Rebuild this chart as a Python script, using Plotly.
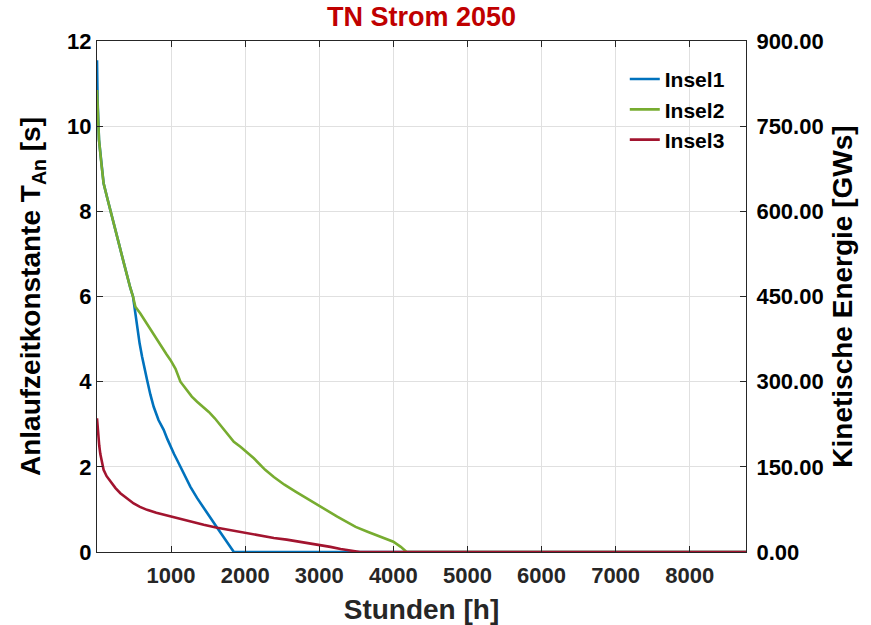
import plotly.graph_objects as go

hours_1 = [0, 8, 27, 60, 89, 140, 193, 250, 306, 360, 410, 450, 486, 508, 540, 575, 608, 640, 676, 720, 765, 830, 900, 950, 991, 1040, 1081, 1117, 1180, 1261, 1350, 1464, 1540, 1622, 1680, 1734, 1790, 1847, 8760]
insel1 = [11.55, 10.6, 9.68, 9.1, 8.66, 8.3, 7.96, 7.55, 7.17, 6.8, 6.45, 6.2, 6.0, 5.7, 5.25, 4.9, 4.59, 4.3, 4.04, 3.7, 3.41, 3.1, 2.87, 2.65, 2.47, 2.3, 2.16, 2.03, 1.8, 1.53, 1.27, 0.99, 0.78, 0.57, 0.42, 0.28, 0.13, 0, 0]

hours_2 = [0, 8, 27, 60, 89, 140, 193, 250, 306, 360, 410, 450, 486, 518, 585, 650, 720, 800, 878, 940, 991, 1060, 1126, 1200, 1280, 1351, 1430, 1509, 1590, 1666, 1750, 1847, 1936, 2000, 2117, 2162, 2270, 2387, 2530, 2680, 2840, 3000, 3120, 3243, 3370, 3491, 3660, 3828, 4000, 4100, 4180, 8760]
insel2 = [10.85, 10.3, 9.68, 9.1, 8.66, 8.3, 7.96, 7.55, 7.17, 6.8, 6.45, 6.2, 6.0, 5.76, 5.6, 5.42, 5.25, 5.02, 4.78, 4.64, 4.51, 4.3, 4.0, 3.82, 3.65, 3.53, 3.42, 3.29, 3.14, 2.98, 2.8, 2.59, 2.47, 2.38, 2.2, 2.12, 1.93, 1.76, 1.58, 1.42, 1.25, 1.08, 0.96, 0.83, 0.71, 0.59, 0.47, 0.36, 0.24, 0.12, 0, 0]

hours_3 = [0, 15, 30, 45, 65, 89, 130, 180, 250, 315, 400, 495, 580, 676, 800, 1000, 1130, 1261, 1440, 1622, 1800, 2000, 2200, 2387, 2560, 2747, 3000, 3150, 3288, 3420, 3550, 8760]
insel3 = [3.14, 2.75, 2.5, 2.3, 2.1, 1.93, 1.78, 1.65, 1.5, 1.38, 1.26, 1.14, 1.06, 0.99, 0.92, 0.83, 0.77, 0.71, 0.64, 0.57, 0.51, 0.45, 0.39, 0.33, 0.29, 0.24, 0.16, 0.12, 0.07, 0.03, 0, 0]

series_names = ["Insel1", "Insel2", "Insel3"]
x_ticks = [1000, 2000, 3000, 4000, 5000, 6000, 7000, 8000]
y_ticks = [0, 2, 4, 6, 8, 10, 12]
y2_ticks = [0, 150, 300, 450, 600, 750, 900]

colors = ["#0072BD", "#77AC30", "#A2142F"]
FONT = "Liberation Sans, Arial, sans-serif"

fig = go.Figure()
for xs, ys, name, c in zip([hours_1, hours_2, hours_3], [insel1, insel2, insel3], series_names, colors):
    fig.add_trace(go.Scatter(x=xs, y=ys, mode="lines", name=name,
                             line=dict(color=c, width=2.6)))
# empty helper trace so that the right-hand energy axis is drawn
fig.add_trace(go.Scatter(x=[None], y=[None], yaxis="y2", showlegend=False,
                         hoverinfo="skip", mode="lines"))

def axis_common(color):
    return dict(showline=True, linecolor="#262626", linewidth=1, ticks="inside",
                ticklen=6, tickcolor="#262626", zeroline=False,
                tickfont=dict(family=FONT, size=22, color=color, weight="bold"))

fig.update_layout(
    width=871, height=625,
    margin=dict(l=97, r=125, t=41, b=73),
    paper_bgcolor="white", plot_bgcolor="white",
    title=dict(text="TN Strom 2050", x=0.5, xref="paper", xanchor="center",
               y=0.988, yanchor="top",
               font=dict(family=FONT, size=27, color="#C00000", weight="bold")),
    xaxis=dict(range=[0, 8760], tickvals=x_ticks, mirror="ticks", showgrid=True,
               gridcolor="#e0e0e0", gridwidth=1, automargin=False, ticklabelstandoff=4,
               title=dict(text="Stunden [h]", font=dict(family=FONT, size=28, color="#262626", weight="bold"), standoff=14),
               **axis_common("#262626")),
    yaxis=dict(range=[0, 12], tickvals=y_ticks, showgrid=True, gridcolor="#e0e0e0",
               title=dict(text="Anlaufzeitkonstante T<sub>An</sub> [s]", font=dict(family=FONT, size=28, color="#000000", weight="bold"), standoff=18),
               **axis_common("#000000")),
    yaxis2=dict(range=[0, 900], tickvals=y2_ticks, tickformat=".2f", overlaying="y", side="right",
                anchor="x", showgrid=False, ticklabelstandoff=5,
                title=dict(text="Kinetische Energie [GWs]", font=dict(family=FONT, size=28, color="#000000", weight="bold"), standoff=9),
                **axis_common("#000000")),
    legend=dict(x=0.975, y=0.965, xanchor="right", yanchor="top", bgcolor="rgba(0,0,0,0)",
                font=dict(family=FONT, size=21, color="#000000", weight="bold"), tracegroupgap=0),
)

fig.write_html("out.html")
